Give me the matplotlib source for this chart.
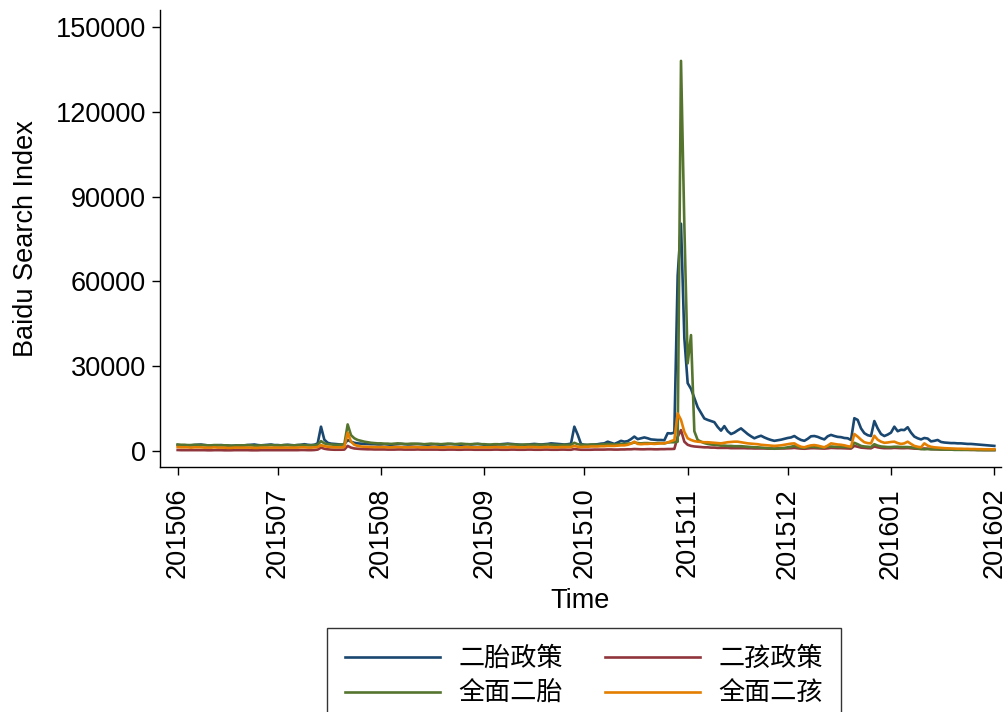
import matplotlib
matplotlib.use("Agg")
import matplotlib.pyplot as plt
import matplotlib.dates as mdates
import pandas as pd

# Daily dates, 2015-06-01 .. 2016-02-01
start_date = "2015-06-01"
end_date = "2016-02-01"

series_names = ["二胎政策", "二孩政策", "全面二胎", "全面二孩"]

# 二胎政策
erTai_zhengce = [
    # Jun
    2100, 2000, 2000, 1900, 2000, 2100, 2200, 2300, 2100, 2000, 1900, 1900, 2000, 2100, 2000,
    1900, 1800, 1900, 2000, 1900, 2000, 2100, 2200, 2300, 2100, 2000, 2100, 2200, 2300, 2100,
    # Jul
    2100, 2000, 2100, 2200, 2100, 2000, 2100, 2200, 2400, 2200, 2100, 2200, 2700, 8600, 4000,
    2900, 2600, 2500, 2400, 2300, 2400, 3900, 3300, 2900, 2700, 2600, 2500, 2500, 2400, 2400, 2300,
    # Aug
    2300, 2400, 2300, 2200, 2300, 2400, 2500, 2400, 2300, 2300, 2400, 2500, 2400, 2300, 2200,
    2300, 2400, 2300, 2200, 2300, 2400, 2500, 2400, 2300, 2200, 2300, 2400, 2300, 2400, 2500, 2400,
    # Sep
    2200, 2100, 2000, 2200, 2300, 2400, 2500, 2600, 2500, 2400, 2300, 2200, 2100, 2300, 2400,
    2500, 2400, 2300, 2400, 2500, 2700, 2600, 2500, 2400, 2300, 2400, 2600, 8600, 5800, 2500,
    # Oct
    2200, 2100, 2200, 2300, 2400, 2600, 2700, 3300, 2900, 2500, 3000, 3600, 3300, 3500, 4200,
    5100, 4200, 4500, 4800, 4500, 4100, 4000, 3900, 3900, 3800, 6300, 6200, 6500, 62000, 80400, 40000,
    # Nov
    24000, 22000, 18700, 15500, 13500, 11500, 11000, 10600, 10200, 8500, 7200, 8800, 7000, 6000, 6500,
    7300, 8000, 7000, 6000, 5200, 4500, 5000, 5400, 4800, 4300, 3900, 3600, 3800, 4000, 4300,
    # Dec
    4600, 4800, 5300, 4500, 3900, 3600, 4300, 5200, 5300, 5000, 4500, 4100, 5200, 5700, 5300,
    5000, 4900, 4600, 4500, 3900, 11600, 11000, 8000, 6300, 5600, 5300, 10600, 8000, 6000, 5300, 5800,
    # Jan
    6500, 8600, 7000, 7500, 7400, 8400, 6500, 5100, 4500, 4100, 4600, 4400, 3400, 3600, 3900,
    3200, 3000, 2900, 2800, 2800, 2700, 2700, 2600, 2500, 2500, 2400, 2300, 2200, 2100, 2000, 1900,
    # Feb 1
    1800,
]

# 二孩政策
erHai_zhengce = [
    350, 300, 300, 300, 300, 300, 300, 300, 300, 250, 250, 300, 300, 300, 250,
    250, 250, 300, 300, 300, 300, 300, 250, 250, 250, 300, 300, 300, 300, 300,
    300, 300, 300, 300, 300, 300, 300, 350, 350, 300, 300, 350, 500, 1200, 800,
    600, 500, 450, 450, 450, 500, 1800, 1200, 900, 800, 700, 650, 600, 600, 550, 550,
    550, 550, 500, 500, 500, 550, 550, 500, 500, 500, 500, 550, 500, 500, 500,
    500, 500, 500, 450, 450, 500, 500, 500, 450, 450, 500, 500, 500, 450, 450, 450,
    450, 450, 450, 500, 500, 450, 450, 450, 500, 500, 450, 450, 450, 500, 500,
    450, 450, 450, 500, 500, 450, 450, 450, 500, 500, 450, 450, 700, 550, 450,
    450, 450, 450, 500, 500, 500, 500, 550, 550, 500, 500, 550, 550, 600, 600,
    700, 650, 600, 600, 650, 650, 600, 600, 650, 650, 700, 700, 750, 5000, 7400, 3300,
    2200, 1800, 1600, 1500, 1400, 1300, 1300, 1200, 1200, 1100, 1100, 1100, 1100, 1000, 1000,
    1000, 1000, 1000, 950, 950, 900, 900, 900, 900, 850, 850, 850, 900, 900, 900,
    950, 1000, 1100, 950, 850, 800, 900, 1000, 1000, 950, 900, 850, 950, 1100, 1050,
    1000, 1000, 950, 900, 850, 1800, 1500, 1200, 1100, 1000, 950, 1600, 1300, 1100, 1000, 1000,
    1000, 1100, 1050, 1000, 1000, 1050, 950, 850, 800, 750, 900, 800, 700, 650, 600,
    600, 550, 550, 500, 500, 500, 450, 450, 450, 400, 400, 400, 400, 350, 350, 350,
    350,
]

# 全面二胎
quanmian_erTai = [
    2300, 2200, 2200, 2100, 2100, 2200, 2200, 2100, 2100, 2000, 2000, 2100, 2100, 2000, 2000,
    2000, 1900, 1900, 2000, 2000, 2000, 2100, 2000, 1900, 1900, 2000, 2000, 2000, 2100, 2000,
    2000, 2000, 2100, 2100, 2000, 2000, 2100, 2100, 2100, 2000, 2000, 2100, 2200, 3500, 2700,
    2400, 2300, 2200, 2200, 2300, 2400, 9400, 5600, 4500, 3900, 3600, 3300, 3100, 2900, 2800, 2700,
    2700, 2600, 2600, 2500, 2600, 2700, 2600, 2500, 2500, 2600, 2600, 2500, 2500, 2400, 2500,
    2600, 2500, 2500, 2400, 2500, 2600, 2500, 2400, 2500, 2600, 2500, 2400, 2400, 2500, 2500, 2400,
    2400, 2300, 2300, 2400, 2400, 2300, 2300, 2400, 2300, 2300, 2200, 2200, 2300, 2300, 2200,
    2200, 2300, 2200, 2200, 2300, 2200, 2200, 2100, 2100, 2200, 2200, 2200, 2900, 2400, 2200,
    2200, 2200, 2300, 2300, 2200, 2300, 2400, 2500, 2400, 2300, 2400, 2500, 2500, 2600, 2700,
    3000, 2800, 2700, 2800, 2800, 2700, 2700, 2800, 2800, 2700, 3000, 3100, 3100, 3300, 138000, 80000,
    31000, 41000, 7000, 3900, 3300, 2800, 2500, 2300, 2200, 2100, 1900, 1900, 1800, 1800, 1700,
    1700, 1700, 1600, 1500, 1400, 1300, 1300, 1200, 1100, 1000, 900, 800, 900, 1000, 1100,
    1300, 1500, 1800, 1400, 1200, 1100, 1300, 1500, 1400, 1300, 1200, 1300, 1500, 1600, 1500,
    1500, 1400, 1400, 1400, 1300, 2900, 2400, 1800, 1600, 1500, 1400, 2400, 1900, 1600, 1500, 1400,
    1400, 1500, 1500, 1400, 1400, 1400, 1300, 1100, 900, 700, 600, 700, 600, 600, 600,
    500, 500, 500, 500, 400, 400, 400, 400, 400, 400, 400, 300, 300, 300, 300, 300,
    300,
]

# 全面二孩
quanmian_erHai = [
    1400, 1300, 1300, 1300, 1200, 1300, 1300, 1300, 1200, 1200, 1200, 1300, 1200, 1200, 1200,
    1100, 1100, 1200, 1200, 1200, 1200, 1200, 1200, 1100, 1100, 1200, 1200, 1200, 1200, 1200,
    1200, 1200, 1200, 1200, 1200, 1200, 1200, 1300, 1300, 1200, 1200, 1300, 1400, 2100, 1700,
    1500, 1400, 1300, 1300, 1300, 1400, 6500, 3300, 2200, 1800, 1600, 1500, 1500, 1400, 1400, 1400,
    1400, 1400, 1300, 1300, 1400, 1400, 1400, 1300, 1300, 1400, 1400, 1400, 1300, 1300, 1300,
    1400, 1400, 1300, 1300, 1300, 1400, 1400, 1300, 1300, 1300, 1400, 1400, 1300, 1300, 1300, 1300,
    1300, 1300, 1300, 1400, 1400, 1300, 1300, 1300, 1400, 1400, 1300, 1300, 1300, 1400, 1400,
    1400, 1300, 1300, 1400, 1400, 1400, 1300, 1300, 1400, 1400, 1400, 1400, 1800, 1500, 1400,
    1500, 1500, 1600, 1600, 1600, 1700, 1700, 1800, 1800, 1800, 1900, 2000, 2000, 2200, 2600,
    3300, 2500, 2400, 2500, 2500, 2600, 2500, 2600, 2700, 2700, 3000, 3500, 3900, 13300, 11000, 6800,
    4500, 3900, 3500, 3300, 3200, 3100, 3100, 3000, 2900, 2800, 2700, 2900, 3100, 3200, 3300,
    3300, 3100, 2900, 2700, 2600, 2500, 2400, 2200, 2100, 2000, 1900, 1800, 1900, 2000, 2200,
    2400, 2600, 2700, 2000, 1500, 1300, 1700, 2000, 2100, 1900, 1600, 1300, 1900, 2700, 2500,
    2300, 2200, 2000, 1700, 1500, 6000, 5100, 4000, 3100, 2800, 2700, 5400, 4000, 3300, 2900, 3000,
    3200, 3300, 2800, 2500, 2700, 3300, 2500, 1800, 1500, 1300, 2700, 1900, 1500, 1300, 1200,
    1100, 1000, 950, 900, 850, 800, 800, 750, 750, 700, 700, 650, 650, 600, 600, 600,
    600,
]

yticks = [0, 30000, 60000, 90000, 120000, 150000]
xtick_months = ["2015-06-01", "2015-07-01", "2015-08-01", "2015-09-01", "2015-10-01",
                "2015-11-01", "2015-12-01", "2016-01-01", "2016-02-01"]

colors = ["#1a476f", "#90353b", "#55752f", "#e37e00"]

plt.rcParams["font.family"] = ["Liberation Sans", "Noto Sans CJK SC", "DejaVu Sans"]
FS = 19.5

dates = pd.date_range(start_date, end_date, freq="D")

fig = plt.figure(figsize=(10.08, 7.12), dpi=100)
ax = fig.add_axes([160 / 1008, 1 - 467 / 712, (1001 - 160) / 1008, (467 - 10) / 712])

all_series = [erTai_zhengce, erHai_zhengce, quanmian_erTai, quanmian_erHai]
lines = []
for name, vals, c in zip(series_names, all_series, colors):
    ln, = ax.plot(dates, vals, color=c, lw=1.9, label=name, solid_joinstyle="round")
    lines.append(ln)

ax.set_xlim(pd.Timestamp("2015-06-01") - pd.Timedelta(days=5.3),
            pd.Timestamp("2015-06-01") + pd.Timedelta(days=247))
ax.set_ylim(-5660, 156000)

ax.set_yticks(yticks)
ax.set_yticklabels([str(v) for v in yticks], fontsize=FS)
ax.set_xticks(pd.to_datetime(xtick_months))
ax.xaxis.set_major_formatter(mdates.DateFormatter("%Y%m"))
for lab in ax.get_xticklabels():
    lab.set_rotation(90)
    lab.set_fontsize(FS)

ax.tick_params(axis="both", direction="out", length=6, width=1.0, color="black")
ax.tick_params(axis="y", pad=4)
ax.tick_params(axis="x", pad=9)

for s in ["top", "right"]:
    ax.spines[s].set_visible(False)
for s in ["left", "bottom"]:
    ax.spines[s].set_linewidth(1.0)

ax.set_ylabel("Baidu Search Index", fontsize=FS, labelpad=12)
ax.set_xlabel("Time", fontsize=FS, labelpad=7)

# Legend order: column 1 (二胎政策, 全面二胎), column 2 (二孩政策, 全面二孩)
handles = [lines[0], lines[2], lines[1], lines[3]]
labels = [series_names[0], series_names[2], series_names[1], series_names[3]]
leg = fig.legend(handles, labels, ncol=2, loc="upper center",
                 bbox_to_anchor=(584 / 1008, 1 - 628 / 712),
                 fontsize=18.8, frameon=True, fancybox=False, edgecolor="black",
                 handlelength=3.65, handletextpad=0.7, columnspacing=1.6,
                 labelspacing=0.42, borderpad=0.7, borderaxespad=0)
leg.get_frame().set_linewidth(1.0)
for h in leg.legend_handles:
    h.set_linewidth(1.9)

fig.savefig("out.png", dpi=100)
